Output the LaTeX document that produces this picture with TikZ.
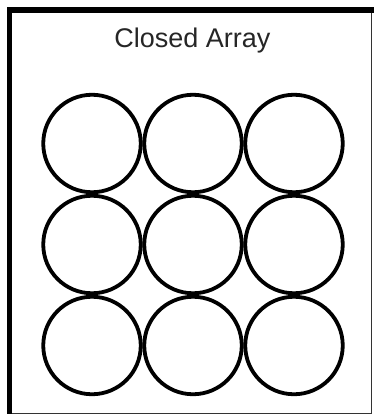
\documentclass[tikz,border=0pt]{standalone}
\usepackage{fontspec}
\setmainfont{Liberation Sans}
\usetikzlibrary{positioning}

\begin{document}
\begin{tikzpicture}[
        x=1pt, y=-1pt,
        cell/.style={circle, draw, line width=3.8pt, minimum size=97.5pt, inner sep=0pt},
        title/.style={font=\fontsize{27}{32}\selectfont, text=black!85}
        ]
        \useasboundingbox (0,0) rectangle (373,414);

        % Frame
        \coordinate (nw) at (9.5,10);
        \coordinate (se) at (371.5,413);
        \draw [line width=1pt, black!80] (nw) rectangle (se);
        \draw [line width=5.5pt, line cap=rect] (nw |- se) -- (nw) -- (se |- nw);

        % Title
        \node [title] (label) at (192.5,41) {Closed Array};

        % Circles
        \foreach \r in {1,2,3} {
            \foreach \c in {1,2,3} {
                \node [cell] (c-\r-\c) at ({92+101*(\c-1)},{143.5+101*(\r-1)}) {};
            }
        }
    \end{tikzpicture}
\end{document}
